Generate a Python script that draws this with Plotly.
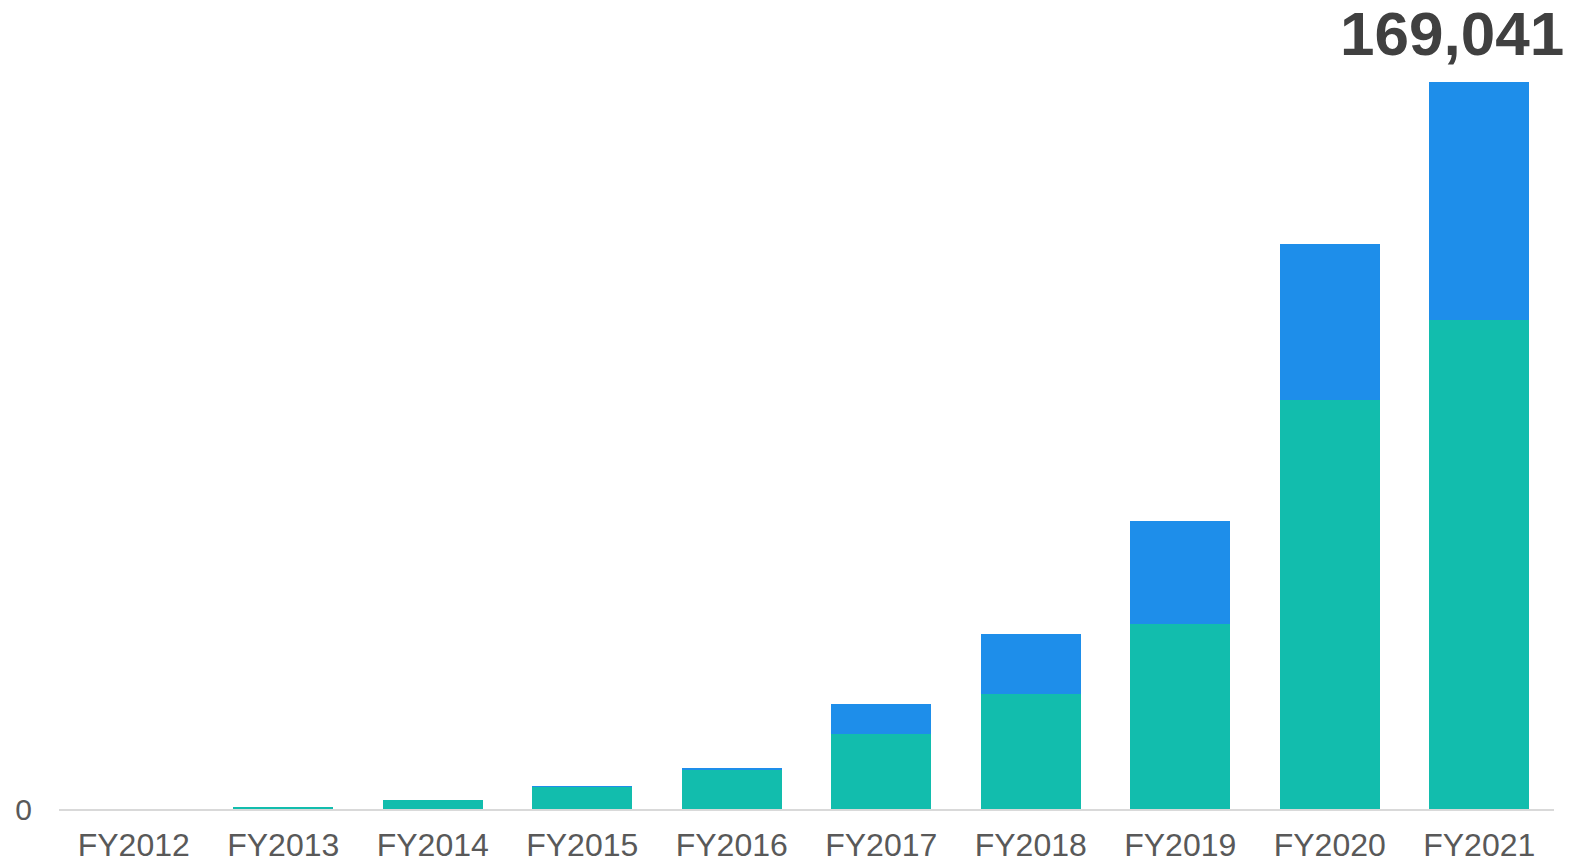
import plotly.graph_objects as go

# Fiscal years on the category axis
years = ["FY2012", "FY2013", "FY2014", "FY2015", "FY2016",
         "FY2017", "FY2018", "FY2019", "FY2020", "FY2021"]

# Stacked series (lower segment, upper segment)
base_values = [0, 250, 2000, 5250, 9250, 17400, 26800, 42950, 95150, 113700]
top_values = [0, 0, 0, 30, 280, 6950, 13800, 23950, 36150, 55341]

totals = [a + b for a, b in zip(base_values, top_values)]
final_total = totals[-1]

TEAL = "#12BDAD"
BLUE = "#1E8EEA"

fig = go.Figure()
fig.add_trace(go.Bar(x=years, y=base_values, marker=dict(color=TEAL, line=dict(width=0)),
                     hoverinfo="x+y"))
fig.add_trace(go.Bar(x=years, y=top_values, marker=dict(color=BLUE, line=dict(width=0)),
                     hoverinfo="x+y"))

fig.add_annotation(
    x=years[-1], y=final_total,
    text=f"<b>{final_total:,}</b>",
    showarrow=False,
    xanchor="center", yanchor="bottom",
    xshift=-27, yshift=13, borderpad=0,
    font=dict(family="Liberation Sans, Arial, sans-serif", size=62, color="#404040"),
)

fig.update_layout(
    barmode="stack",
    bargap=0.33,
    showlegend=False,
    width=1579, height=863,
    margin=dict(l=59, r=25, t=82, b=54),
    paper_bgcolor="white",
    plot_bgcolor="white",
    font=dict(family="Liberation Sans, Arial, sans-serif", color="#595959"),
    xaxis=dict(
        automargin=False,
        range=[-0.5, len(years) - 0.5],
        showline=True, linecolor="#D9D9D9", linewidth=2,
        showgrid=False, ticks="",
        tickfont=dict(size=32, color="#595959"),
        ticklabelstandoff=7,
    ),
    yaxis=dict(
        automargin=False,
        range=[0, final_total],
        tickvals=[0], ticktext=["0"],
        showgrid=False, zeroline=False, showline=False, ticks="",
        tickfont=dict(size=30, color="#595959"),
        ticklabelstandoff=26,
    ),
)

fig.write_html("out.html")
